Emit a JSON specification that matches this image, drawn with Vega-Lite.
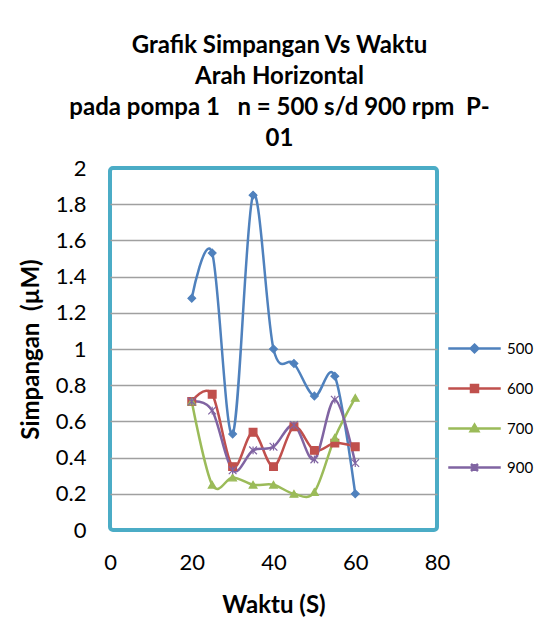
{
  "$schema": "https://vega.github.io/schema/vega-lite/v6.json",
  "autosize": "none",
  "width": 327,
  "height": 362,
  "padding": {"left": 110, "top": 168, "right": 110, "bottom": 114},
  "background": "white",
  "title": {
    "text": ["Grafik Simpangan Vs Waktu", "Arah Horizontal", "pada pompa 1\u00a0\u00a0\u00a0n = 500 s/d 900 rpm\u00a0\u00a0P-", "01"],
    "font": "Lato",
    "fontSize": 24,
    "fontWeight": "bold",
    "color": "#000000",
    "lineHeight": 31,
    "offset": 6,
    "dx": 6
  },
  "data": {
    "values": [
      {"waktu": 20, "simpangan": 1.28, "rpm": "500"},
      {"waktu": 25, "simpangan": 1.53, "rpm": "500"},
      {"waktu": 30, "simpangan": 0.53, "rpm": "500"},
      {"waktu": 35, "simpangan": 1.85, "rpm": "500"},
      {"waktu": 40, "simpangan": 1.0, "rpm": "500"},
      {"waktu": 45, "simpangan": 0.92, "rpm": "500"},
      {"waktu": 50, "simpangan": 0.74, "rpm": "500"},
      {"waktu": 55, "simpangan": 0.85, "rpm": "500"},
      {"waktu": 60, "simpangan": 0.2, "rpm": "500"},
      {"waktu": 20, "simpangan": 0.71, "rpm": "600"},
      {"waktu": 25, "simpangan": 0.75, "rpm": "600"},
      {"waktu": 30, "simpangan": 0.35, "rpm": "600"},
      {"waktu": 35, "simpangan": 0.54, "rpm": "600"},
      {"waktu": 40, "simpangan": 0.35, "rpm": "600"},
      {"waktu": 45, "simpangan": 0.57, "rpm": "600"},
      {"waktu": 50, "simpangan": 0.44, "rpm": "600"},
      {"waktu": 55, "simpangan": 0.48, "rpm": "600"},
      {"waktu": 60, "simpangan": 0.46, "rpm": "600"},
      {"waktu": 20, "simpangan": 0.71, "rpm": "700"},
      {"waktu": 25, "simpangan": 0.25, "rpm": "700"},
      {"waktu": 30, "simpangan": 0.29, "rpm": "700"},
      {"waktu": 35, "simpangan": 0.25, "rpm": "700"},
      {"waktu": 40, "simpangan": 0.25, "rpm": "700"},
      {"waktu": 45, "simpangan": 0.2, "rpm": "700"},
      {"waktu": 50, "simpangan": 0.21, "rpm": "700"},
      {"waktu": 55, "simpangan": 0.51, "rpm": "700"},
      {"waktu": 60, "simpangan": 0.73, "rpm": "700"},
      {"waktu": 20, "simpangan": 0.71, "rpm": "900"},
      {"waktu": 25, "simpangan": 0.66, "rpm": "900"},
      {"waktu": 30, "simpangan": 0.33, "rpm": "900"},
      {"waktu": 35, "simpangan": 0.44, "rpm": "900"},
      {"waktu": 40, "simpangan": 0.46, "rpm": "900"},
      {"waktu": 45, "simpangan": 0.58, "rpm": "900"},
      {"waktu": 50, "simpangan": 0.39, "rpm": "900"},
      {"waktu": 55, "simpangan": 0.72, "rpm": "900"},
      {"waktu": 60, "simpangan": 0.37, "rpm": "900"}
    ]
  },
  "encoding": {
    "x": {
      "field": "waktu",
      "type": "quantitative",
      "title": "Waktu (S)",
      "scale": {"domain": [0, 80], "nice": false},
      "axis": {"values": [0, 20, 40, 60, 80], "format": "d", "grid": false, "labelPadding": 22, "labelFlush": false, "titlePadding": 20}
    },
    "y": {
      "field": "simpangan",
      "type": "quantitative",
      "title": "Simpangan\u00a0\u00a0(\u00b5M)",
      "scale": {"domain": [0, 2], "nice": false},
      "axis": {
        "values": [0, 0.2, 0.4, 0.6, 0.8, 1, 1.2, 1.4, 1.6, 1.8, 2],
        "format": ".1~f",
        "grid": true,
        "gridColor": "#A0A0A0",
        "gridWidth": 1.5,
        "gridOpacity": {"condition": {"test": "datum.value == 0 || datum.value == 2", "value": 0}, "value": 1},
        "labelPadding": 24,
        "titlePadding": 12
      }
    },
    "color": {
      "field": "rpm",
      "type": "nominal",
      "scale": {"domain": ["500", "600", "700", "900"], "range": ["#4F81BD", "#C0504D", "#9BBB59", "#8064A2"]},
      "legend": {
        "title": null,
        "orient": "none",
        "legendX": 357,
        "legendY": 173,
        "padding": 0,
        "rowPadding": 22,
        "labelOffset": 25,
        "labelFontSize": 15,
        "labelFont": "Lato",
        "labelColor": "#000000",
        "symbolSize": 49,
        "symbolStrokeWidth": 2.5,
        "encode": {
          "symbols": {
            "update": {
              "shape": {"signal": "datum.value === '500' ? 'M-7.5,0H7.5M0,-1.1L1.1,0L0,1.1L-1.1,0Z' : datum.value === '600' ? 'M-7.5,0H7.5M-1,-1H1V1H-1Z' : datum.value === '700' ? 'M-7.5,0H7.5M0,-1.1L1.1,0.8H-1.1Z' : 'M-7.5,0H7.5M-1,-1L1,1M-1,1L1,-1M0,-1V1'"},
              "strokeWidth": {"value": 2.5},
              "opacity": {"value": 1}
            }
          }
        }
      }
    }
  },
  "layer": [
    {
      "mark": {"type": "line", "interpolate": "cardinal", "strokeWidth": 2.5}
    },
    {
      "mark": {
        "type": "point",
        "filled": true,
        "size": 60,
        "opacity": 1,
        "strokeWidth": 1.2,
        "shape": {"expr": "datum.rpm === '500' ? 'diamond' : datum.rpm === '600' ? 'square' : datum.rpm === '700' ? 'triangle-up' : 'M-1,-1L1,1M-1,1L1,-1M0,-1V1'"},
        "stroke": {"expr": "datum.rpm === '500' ? '#4F81BD' : datum.rpm === '600' ? '#C0504D' : datum.rpm === '700' ? '#9BBB59' : '#8064A2'"}
      }
    }
  ],
  "config": {
    "font": "Lato",
    "view": {"stroke": "#4BACC6", "strokeWidth": 4, "cornerRadius": 3},
    "axis": {
      "domain": false,
      "ticks": false,
      "labelFont": "Lato",
      "labelFontSize": 22,
      "labelColor": "#000000",
      "titleFont": "Lato",
      "titleFontSize": 24,
      "titleFontWeight": "bold",
      "titleColor": "#000000"
    }
  }
}
